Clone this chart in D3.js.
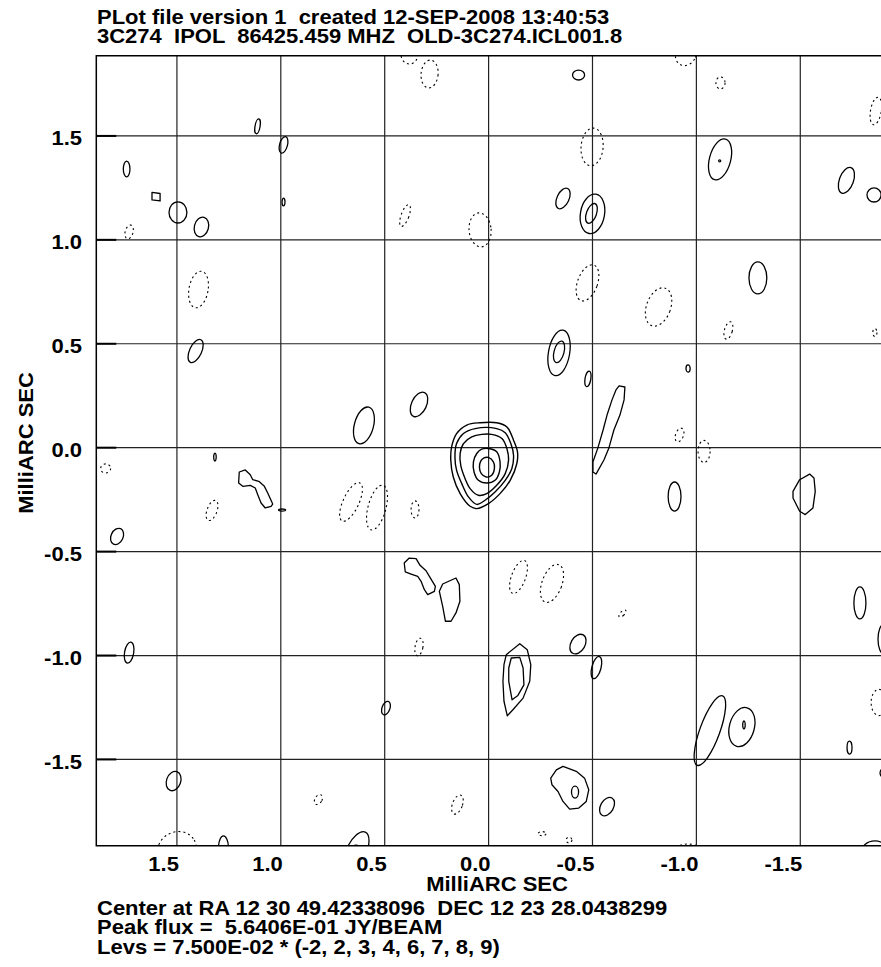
<!DOCTYPE html>
<html>
<head>
<meta charset="utf-8">
<script src="https://cdn.jsdelivr.net/npm/d3@7"></script>
<style>
body { margin: 0; background: #fff; }
text { font-family: "Liberation Sans", Arial, sans-serif; font-weight: bold; font-size: 20px; fill: #000; white-space: pre; }
</style>
</head>
<body>
<script>
var width = 881;
var height = 967;

// axis ticks (milliarcsec)
var tickValues = [1.5, 1.0, 0.5, 0.0, -0.5, -1.0, -1.5];
var tickLabels = ["1.5", "1.0", "0.5", "0.0", "-0.5", "-1.0", "-1.5"];

var titleLines = ["PLot file version 1  created 12-SEP-2008 13:40:53",
                  "3C274  IPOL  86425.459 MHZ  OLD-3C274.ICL001.8"];
var footLines = ["Center at RA 12 30 49.42338096  DEC 12 23 28.0438299",
                 "Peak flux =  5.6406E-01 JY/BEAM",
                 "Levs = 7.500E-02 * (-2, 2, 3, 4, 6, 7, 8, 9)"];

// core contours, levels 2,3,4,6,7 (x, y in mas)
var coreLev2 = [[-0.039,0.120],[-0.088,0.100],[-0.120,0.036],[-0.139,-0.020],[-0.136,-0.076],[-0.104,-0.157],[-0.055,-0.221],[0.001,-0.269],[0.057,-0.293],[0.089,-0.282],[0.137,-0.221],[0.170,-0.141],[0.182,-0.060],[0.178,0.004],[0.154,0.068],[0.105,0.109],[0.041,0.120]];
var coreLev3 = [[-0.039,0.092],[-0.080,0.072],[-0.107,0.020],[-0.120,-0.036],[-0.112,-0.100],[-0.080,-0.157],[-0.031,-0.213],[0.017,-0.253],[0.057,-0.273],[0.097,-0.237],[0.129,-0.173],[0.154,-0.109],[0.162,-0.044],[0.154,0.020],[0.121,0.068],[0.065,0.092]];
var coreLev4 = [[-0.015,0.064],[-0.064,0.044],[-0.088,-0.004],[-0.096,-0.060],[-0.080,-0.125],[-0.039,-0.181],[0.009,-0.221],[0.049,-0.229],[0.089,-0.197],[0.113,-0.149],[0.134,-0.085],[0.137,-0.028],[0.121,0.020],[0.081,0.052],[0.033,0.064]];
var coreLev6 = [[0.001,-0.004],[-0.039,-0.020],[-0.055,-0.068],[-0.052,-0.117],[-0.031,-0.157],[0.009,-0.170],[0.049,-0.157],[0.070,-0.117],[0.073,-0.068],[0.057,-0.028],[0.033,-0.007]];
var coreLev7 = [[0.001,-0.047],[-0.023,-0.068],[-0.028,-0.100],[-0.015,-0.133],[0.012,-0.141],[0.035,-0.125],[0.044,-0.096],[0.038,-0.065],[0.022,-0.049]];

// irregular positive contours
var squareBlob = [[1.620,1.228],[1.581,1.223],[1.581,1.187],[1.620,1.192]];
var jet = [[-0.628,0.297],[-0.656,0.292],[-0.652,0.230],[-0.632,0.157],[-0.603,0.085],[-0.579,-0.001],[-0.555,-0.059],[-0.517,-0.127],[-0.502,-0.117],[-0.502,-0.069],[-0.526,-0.001],[-0.551,0.085],[-0.570,0.157],[-0.594,0.230],[-0.613,0.278]];
var chainA = [[1.200,-0.117],[1.171,-0.107],[1.147,-0.130],[1.135,-0.154],[1.106,-0.162],[1.079,-0.186],[1.063,-0.218],[1.039,-0.271],[1.047,-0.282],[1.075,-0.290],[1.095,-0.266],[1.111,-0.226],[1.123,-0.194],[1.147,-0.181],[1.183,-0.186],[1.203,-0.170]];
var chainB = [[0.406,-0.555],[0.382,-0.531],[0.349,-0.534],[0.330,-0.566],[0.301,-0.592],[0.285,-0.619],[0.256,-0.667],[0.261,-0.691],[0.293,-0.707],[0.309,-0.683],[0.325,-0.643],[0.341,-0.619],[0.373,-0.608],[0.401,-0.598]];
var blobC = [[0.221,-0.656],[0.157,-0.627],[0.141,-0.659],[0.138,-0.739],[0.157,-0.795],[0.181,-0.835],[0.208,-0.835],[0.221,-0.763],[0.237,-0.691]];
var blobD = [[-1.465,-0.210],[-1.497,-0.154],[-1.545,-0.127],[-1.566,-0.146],[-1.572,-0.210],[-1.561,-0.290],[-1.524,-0.322],[-1.497,-0.306],[-1.465,-0.242]];
var blobEOuter = [[-0.085,-0.996],[-0.150,-0.943],[-0.186,-0.972],[-0.203,-1.044],[-0.198,-1.124],[-0.166,-1.205],[-0.117,-1.261],[-0.090,-1.290],[-0.074,-1.220],[-0.069,-1.124],[-0.074,-1.044]];
var blobEInner = [[-0.109,-1.012],[-0.150,-1.009],[-0.166,-1.060],[-0.170,-1.141],[-0.141,-1.192],[-0.113,-1.213],[-0.097,-1.124],[-0.097,-1.060]];
var blobF = [[-0.299,-1.590],[-0.326,-1.550],[-0.358,-1.533],[-0.422,-1.557],[-0.462,-1.590],[-0.482,-1.646],[-0.470,-1.702],[-0.434,-1.734],[-0.390,-1.739],[-0.358,-1.702],[-0.334,-1.654],[-0.305,-1.622]];

// small contours approximated as ellipses: [x, y, rx, ry, tilt deg] (mas)
var solidBlobs = [
  [1.112,1.546,.012,.036,10],[0.987,1.457,.019,.041,15],[1.742,1.341,.016,.038,0],
  [0.987,1.182,.007,.019,0],[1.495,1.132,.043,.051,0],[1.382,1.062,.034,.048,15],
  [1.410,0.465,.029,.060,25],[0.600,0.107,.046,.091,15],[0.335,0.208,.036,.063,25],
  [-0.433,1.793,.029,.024,0],[-1.114,1.387,.051,.101,15],[-1.112,1.380,.005,.005,0],
  [-1.722,1.286,.034,.065,20],[-1.855,1.216,.034,.034,0],[-0.358,1.199,.029,.053,25],
  [-0.500,1.125,.058,.096,10],[-0.495,1.127,.024,.050,20],[-1.296,0.817,.043,.077,0],
  [-0.339,0.456,.051,.111,10],[-0.339,0.461,.024,.053,15],[-0.478,0.331,.014,.038,10],
  [-0.960,0.381,.010,.017,0],[1.317,-0.045,.006,.019,0],[0.994,-0.300,.017,.005,0],
  [1.788,-0.427,.029,.041,25],[1.730,-0.986,.022,.051,10],[0.494,-1.253,.019,.034,20],
  [1.516,-1.604,.034,.048,20],[1.276,-1.926,.024,.058,0],[0.638,-1.946,.048,.106,25],
  [0.638,-1.926,.019,.014,0],[-0.895,-0.235,.031,.070,0],[-0.430,-0.945,.034,.051,30],
  [-1.787,-0.747,.029,.077,0],[-1.903,-0.921,.029,.072,0],[-0.519,-1.058,.022,.055,15],
  [-1.065,-1.361,.048,.178,20],[-1.219,-1.344,.060,.096,15],[-1.229,-1.334,.006,.019,0],
  [-1.737,-1.443,.012,.031,0],[-1.898,-1.565,.014,.019,0],[-0.416,-1.657,.017,.029,0],
  [-0.570,-1.727,.031,.048,30],[-1.859,-1.950,.067,.058,0]
];
var dashedBlobs = [
  [0.381,1.894,.041,.048,0],[0.284,1.798,.041,.067,5],[1.730,1.038,.019,.034,15],
  [0.402,1.117,.019,.055,20],[0.041,1.048,.053,.082,-5],[1.396,0.761,.046,.089,10],
  [-0.950,1.894,.048,.058,30],[-1.116,1.755,.022,.029,0],[-1.864,1.620,.026,.067,10],
  [-0.498,1.447,.053,.091,5],[-0.476,0.793,.048,.091,20],[-0.818,0.677,.058,.096,20],
  [-1.154,0.564,.019,.043,15],[-1.859,0.554,.010,.019,0],[-0.919,0.061,.019,.034,20],
  [-1.037,-0.018,.029,.053,0],[1.843,-0.100,.024,.022,0],[1.331,-0.302,.024,.051,20],
  [0.662,-0.261,.038,.101,25],[0.537,-0.288,.043,.111,15],[0.354,-0.297,.019,.041,0],
  [0.335,-0.959,.019,.043,10],[0.819,-1.693,.017,.026,30],[0.150,-1.717,.024,.048,20],
  [1.500,-1.936,.096,.087,-30],[-0.144,-0.622,.034,.084,20],[-0.305,-0.653,.048,.096,20],
  [-0.644,-0.798,.010,.022,45],[-1.879,-1.226,.038,.063,0],[-0.257,-1.857,.019,.010,0],
  [-0.387,-1.888,.014,.014,0],[-0.960,-1.941,.063,.034,0]
];

var plot = {left: 96.3, right: 880.9, top: 55.7, bottom: 845.7};
var stretch = 1.1; // plot font is wider than Liberation Sans

var x = d3.scaleLinear().domain([1.888, -1.888]).range([plot.left, plot.right]);
var y = d3.scaleLinear().domain([1.886, -1.915]).range([plot.top, plot.bottom]);
var k = Math.abs(x(1) - x(0));

var svg = d3.select("body").append("svg")
  .attr("width", width)
  .attr("height", height);

svg.append("defs").append("clipPath").attr("id", "plotclip")
  .append("rect")
  .attr("x", plot.left).attr("y", plot.top)
  .attr("width", plot.right - plot.left + 2).attr("height", plot.bottom - plot.top);

// grid
var grid = svg.append("g");
grid.selectAll("line.gx").data(tickValues).enter().append("line")
  .attr("x1", function(d) { return x(d); }).attr("x2", function(d) { return x(d); })
  .attr("y1", plot.top).attr("y2", plot.bottom)
  .attr("stroke", "#222").attr("stroke-width", 1.2);
grid.selectAll("line.gy").data(tickValues).enter().append("line")
  .attr("y1", function(d) { return y(d); }).attr("y2", function(d) { return y(d); })
  .attr("x1", plot.left).attr("x2", width)
  .attr("stroke", "#222").attr("stroke-width", 1.2);
// short ticks on the left edge
grid.selectAll("line.tk").data(tickValues).enter().append("line")
  .attr("y1", function(d) { return y(d); }).attr("y2", function(d) { return y(d); })
  .attr("x1", plot.left).attr("x2", plot.left + 20)
  .attr("stroke", "#000").attr("stroke-width", 2);

// contours
var cont = svg.append("g").attr("clip-path", "url(#plotclip)")
  .attr("fill", "none").attr("stroke", "#000");

var smooth = d3.line()
  .x(function(d) { return x(d[0]); })
  .y(function(d) { return y(d[1]); })
  .curve(d3.curveCatmullRomClosed.alpha(0.5));
var poly = d3.line()
  .x(function(d) { return x(d[0]); })
  .y(function(d) { return y(d[1]); })
  .curve(d3.curveLinearClosed);

cont.selectAll("path.core")
  .data([coreLev2, coreLev3, coreLev4, coreLev6, coreLev7])
  .enter().append("path")
  .attr("d", smooth).attr("stroke-width", 1.4);

cont.selectAll("path.irr")
  .data([squareBlob, jet, chainA, chainB, blobC, blobD, blobEOuter, blobEInner, blobF])
  .enter().append("path")
  .attr("d", poly).attr("stroke-width", 1.3).attr("stroke-linejoin", "round");

function drawBlobs(data, dashed) {
  cont.append("g").selectAll("ellipse")
    .data(data)
    .enter().append("ellipse")
    .attr("transform", function(d) {
      return "translate(" + x(d[0]) + "," + y(d[1]) + ") rotate(" + d[4] + ")";
    })
    .attr("rx", function(d) { return d[2] * k; })
    .attr("ry", function(d) { return d[3] * k; })
    .attr("stroke-width", dashed ? 1.1 : 1.3)
    .attr("stroke-dasharray", dashed ? "2,3" : null);
}
drawBlobs(solidBlobs, false);
drawBlobs(dashedBlobs, true);

// frame (right side falls just off the page)
svg.append("path")
  .attr("d", "M" + width + "," + plot.top + "H" + plot.left + "V" + plot.bottom + "H" + width)
  .attr("fill", "none").attr("stroke", "#000").attr("stroke-width", 1.5);

function label(px, py, str, anchor, rot) {
  return svg.append("text")
    .attr("transform", "translate(" + px + "," + py + ")" + (rot ? " rotate(" + rot + ")" : "") + " scale(" + stretch + ",1)")
    .attr("text-anchor", anchor || "start")
    .text(str);
}

// tick labels
tickValues.forEach(function(d, i) {
  label(x(d) + 2, 871, tickLabels[i], "end");
  label(82, y(d) + 9.5, tickLabels[i], "end");
});

// axis titles
label(497, 891, "MilliARC SEC", "middle");
label(33, 443, "MilliARC SEC", "middle", -90);

// header and footer
titleLines.forEach(function(d, i) { label(97, 24 + i * 18.7, d); });
footLines.forEach(function(d, i) { label(97, 915 + i * 19.3, d); });
</script>
</body>
</html>
